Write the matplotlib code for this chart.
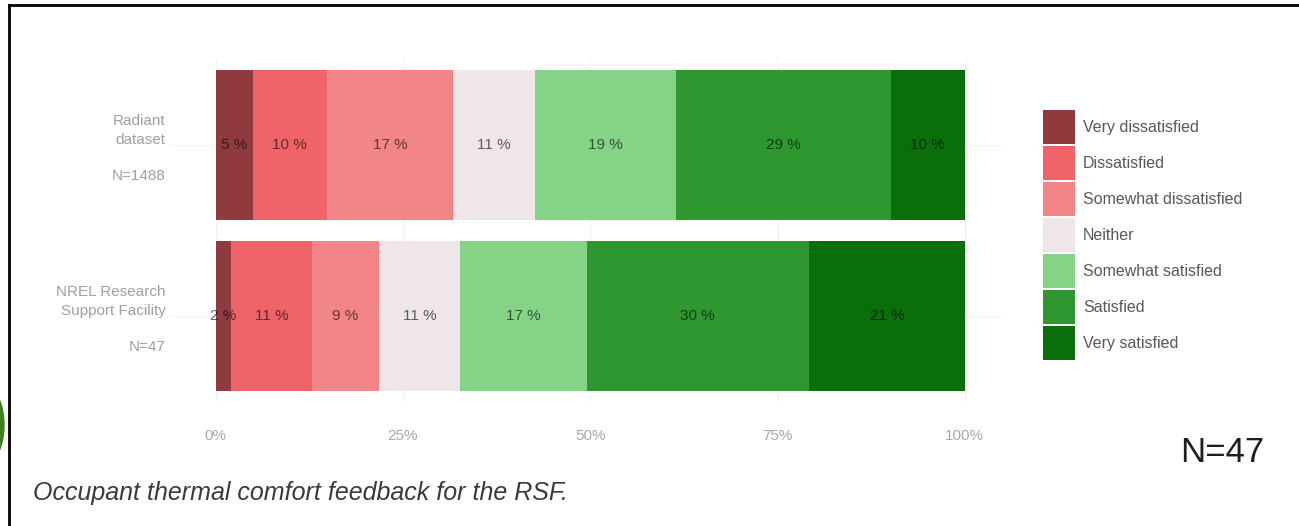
import matplotlib
matplotlib.use("Agg")
import matplotlib.pyplot as plt
from matplotlib.patches import Ellipse
from matplotlib.lines import Line2D
import numpy as np

plt.rcParams['font.family'] = ['Liberation Sans', 'DejaVu Sans']

# ---- data ----
groups = ["Radiant\ndataset\n\nN=1488", "NREL Research\nSupport Facility\n\nN=47"]
levels = ["Very dissatisfied", "Dissatisfied", "Somewhat dissatisfied", "Neither",
          "Somewhat satisfied", "Satisfied", "Very satisfied"]
radiant = [5, 10, 17, 11, 19, 29, 10]
nrel = [2, 11, 9, 11, 17, 30, 21]
colors = ["#8f3b3d", "#ef6468", "#f28587", "#eee6e9", "#84d386", "#2f972f", "#0a6f0a"]
xticks = [0, 25, 50, 75, 100]
xticklabels = ["0%", "25%", "50%", "75%", "100%"]
caption = "Occupant thermal comfort feedback for the RSF."
n_note = "N=47"

W, H = 1299, 526
fig = plt.figure(figsize=(W / 100, H / 100), dpi=100)
fig.patch.set_facecolor("white")

ax = fig.add_axes([170 / W, 1 - 401.5 / H, (1003 - 170) / W, 342 / H])
ax.set_xlim(-6.1, 105.1)
ax.set_ylim(-0.5, 1.5)

ypos = [1, 0]
series = [radiant, nrel]
for y, vals in zip(ypos, series):
    vals = np.array(vals, dtype=float)
    pct = vals / vals.sum() * 100
    left = 0.0
    for i, (v, p) in enumerate(zip(vals, pct)):
        ax.barh(y, p, left=left, height=0.88, color=colors[i], linewidth=0,
                label=levels[i] if y == 1 else None, zorder=2)
        ax.text(left + p / 2, y, f"{int(v)} %", ha="center", va="center",
                fontsize=11, color="black", alpha=0.6, zorder=3)
        left += p

ax.set_yticks(ypos)
ax.set_yticklabels(groups, fontsize=11, color="#a0a0a0", linespacing=1.4)
ax.set_xticks(xticks)
ax.set_xticklabels(xticklabels, fontsize=11, color="#a8a8a8")
ax.tick_params(axis="both", length=0)
ax.tick_params(axis="x", pad=20)
ax.tick_params(axis="y", pad=3)
for s in ax.spines.values():
    s.set_visible(False)
ax.grid(True, color="#f2f2f2", linewidth=0.8, zorder=0)
ax.set_axisbelow(True)

# legend
handles, labels = ax.get_legend_handles_labels()
fig.legend(handles, labels, loc="upper left", bbox_to_anchor=(1043 / W, 1 - 110 / H),
           frameon=False, fontsize=11.5, labelcolor="#585858", borderpad=0,
           handlelength=2.0, handleheight=2.9, labelspacing=0.125, handletextpad=0.5,
           borderaxespad=0)

# annotations
fig.text(1222 / W, 1 - 452 / H, n_note, fontsize=25, color="#1e1e1e",
         ha="center", va="center", fontweight="medium")
fig.text(33 / W, 1 - 493 / H, caption, fontsize=18, style="italic", color="#3a3a3a",
         ha="left", va="center")

# frame and decoration
fig.add_artist(Line2D([9 / W, 9 / W], [0, 1 - 5 / H], color="black", linewidth=2,
                      transform=fig.transFigure))
fig.add_artist(Line2D([9 / W, 1], [1 - 5 / H, 1 - 5 / H], color="black", linewidth=2,
                      transform=fig.transFigure))
leaf = Ellipse((-14 / W, 1 - 425 / H), 36 / W, 75 / H, transform=fig.transFigure,
               color="#3f7f22", zorder=-1)
fig.add_artist(leaf)

fig.savefig("out.png", dpi=100, facecolor="white")
